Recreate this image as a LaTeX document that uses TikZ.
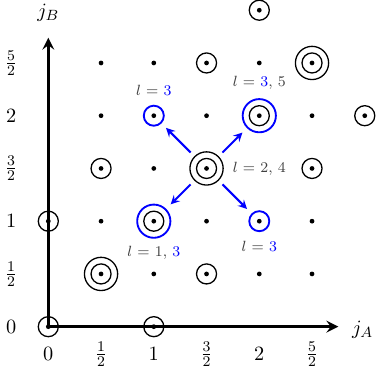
\documentclass[tikz,border=0pt]{standalone}
\usepackage{amsmath, amssymb}

\begin{document}
\begin{tikzpicture}[x=2cm, y=2cm,
	dot/.style={circle, fill=black, inner sep=0pt, minimum size=0.09cm},
	ring/.style={circle, draw=black, line width=0.7pt, inner sep=0pt, minimum size=0.38cm},
	bigring/.style={ring, minimum size=0.63cm},
	bluering/.style={ring, draw=blue, line width=1pt},
	bigbluering/.style={bluering, minimum size=0.63cm},
	axis/.style={line width=1.8pt, stealth-stealth},
	jump/.style={-stealth, blue, line width=1.1pt, shorten <=0.1cm, shorten >=0.12cm},
	lab/.style={font=\footnotesize, text=black!75, inner sep=1pt},
	tick/.style={font=\fontsize{11}{13}\selectfont}]
	\useasboundingbox (-0.458, -0.515) rectangle (3.106, 3.097);
	% Dots of the lattice:
	\node[dot](p00) at (0, 0){};
	\node[dot](p20) at (1, 0){};
	\node[dot](p02) at (0, 1){};
	\node[dot](p11) at (0.5, 0.5){};
	\node[dot](p21) at (1, 0.5){};
	\node[dot](p31) at (1.5, 0.5){};
	\node[dot](p41) at (2, 0.5){};
	\node[dot](p51) at (2.5, 0.5){};
	\node[dot](p12) at (0.5, 1){};
	\node[dot](p22) at (1, 1){};
	\node[dot](p32) at (1.5, 1){};
	\node[dot](p42) at (2, 1){};
	\node[dot](p52) at (2.5, 1){};
	\node[dot](p13) at (0.5, 1.5){};
	\node[dot](p23) at (1, 1.5){};
	\node[dot](p33) at (1.5, 1.5){};
	\node[dot](p53) at (2.5, 1.5){};
	\node[dot](p14) at (0.5, 2){};
	\node[dot](p24) at (1, 2){};
	\node[dot](p34) at (1.5, 2){};
	\node[dot](p44) at (2, 2){};
	\node[dot](p54) at (2.5, 2){};
	\node[dot](p64) at (3, 2){};
	\node[dot](p15) at (0.5, 2.5){};
	\node[dot](p25) at (1, 2.5){};
	\node[dot](p35) at (1.5, 2.5){};
	\node[dot](p45) at (2, 2.5){};
	\node[dot](p55) at (2.5, 2.5){};
	\node[dot](p46) at (2, 3){};
	% Black rings:
	\node[ring](r00) at (p00){};
	\node[ring](r20) at (p20){};
	\node[ring](r02) at (p02){};
	\node[ring](r11) at (p11){};
	\node[bigring](o11) at (p11){};
	\node[ring](r31) at (p31){};
	\node[ring](r22) at (p22){};
	\node[ring](r13) at (p13){};
	\node[ring](r33) at (p33){};
	\node[bigring](o33) at (p33){};
	\node[ring](r53) at (p53){};
	\node[ring](r44) at (p44){};
	\node[ring](r64) at (p64){};
	\node[ring](r35) at (p35){};
	\node[ring](r55) at (p55){};
	\node[bigring](o55) at (p55){};
	\node[ring](r46) at (p46){};
	% Blue rings and jumps:
	\node[bluering](b24) at (p24){};
	\node[bigbluering](b44) at (p44){};
	\node[bluering](b42) at (p42){};
	\node[bigbluering](b22) at (p22){};
	\draw[jump] (o33) -- (b24);
	\draw[jump] (o33) -- (b44);
	\draw[jump] (o33) -- (b42);
	\draw[jump] (o33) -- (b22);
	\node[lab](l24) at (1, 2.24){$l$ = \textcolor{blue}{3}};
	\node[lab](l44) at (2, 2.31){$l$ = \textcolor{blue}{3}, 5};
	\node[lab](l33) at (2, 1.5){$l$ = 2, 4};
	\node[lab](l22) at (1, 0.70){$l$ = 1, \textcolor{blue}{3}};
	\node[lab](l42) at (2, 0.76){$l$ = \textcolor{blue}{3}};
	% Axes and ticks:
	\coordinate (xend) at (2.75, 0);
	\coordinate (yend) at (0, 2.74);
	\draw[axis] (yend) -- (p00.center) -- (xend);
	\node[tick](jA) at (2.98, -0.03){$j_A$};
	\node[tick](jB) at (0, 2.98){$j_B$};
	\node[tick](tx0) at (0, -0.26){$0$};
	\node[tick](tx1) at (0.5, -0.26){$\frac{1}{2}$};
	\node[tick](tx2) at (1, -0.26){$1$};
	\node[tick](tx3) at (1.5, -0.26){$\frac{3}{2}$};
	\node[tick](tx4) at (2, -0.26){$2$};
	\node[tick](tx5) at (2.5, -0.26){$\frac{5}{2}$};
	\node[tick](ty0) at (-0.353, 0){$0$};
	\node[tick](ty1) at (-0.353, 0.5){$\frac{1}{2}$};
	\node[tick](ty2) at (-0.353, 1){$1$};
	\node[tick](ty3) at (-0.353, 1.5){$\frac{3}{2}$};
	\node[tick](ty4) at (-0.353, 2){$2$};
	\node[tick](ty5) at (-0.353, 2.5){$\frac{5}{2}$};
\end{tikzpicture}
\end{document}
